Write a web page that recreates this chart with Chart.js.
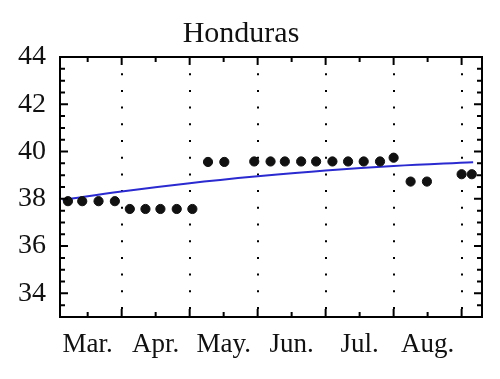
<!DOCTYPE html>
<html>
<head>
<meta charset="utf-8">
<script src="https://cdn.jsdelivr.net/npm/chart.js@4/dist/chart.umd.min.js"></script>
<style>
  html, body { margin: 0; padding: 0; background: #fff; }
  #wrap { width: 500px; height: 379px; }
</style>
</head>
<body>
<div id="wrap"><canvas id="c" width="500" height="379"></canvas></div>
<script>
// Month labels (x unit = months since start of March)
const monthLabels = ['Mar.', 'Apr.', 'May.', 'Jun.', 'Jul.', 'Aug.'];
const labelPos = [0.5, 1.5, 2.5, 3.5, 4.5, 5.5];
const monthBounds = [1, 2, 3, 4, 5, 6];
const yTicks = [34, 36, 38, 40, 42, 44];

// Observed weekly values
const obsX = [0.21, 0.42, 0.66, 0.90, 1.12, 1.35, 1.57, 1.81, 2.04, 2.27, 2.51,
              2.95, 3.19, 3.40, 3.64, 3.86, 4.10, 4.33, 4.56, 4.80, 5.00,
              5.25, 5.49, 6.00, 6.15];
const obsY = [37.9, 37.9, 37.9, 37.9, 37.57, 37.57, 37.57, 37.57, 37.57, 39.56, 39.56,
              39.58, 39.58, 39.58, 39.58, 39.58, 39.58, 39.58, 39.58, 39.58, 39.74,
              38.73, 38.73, 39.04, 39.04];

// Fitted trend
const trendX = [0.13, 1, 2, 3, 4, 5, 6.17];
const trendY = [37.95, 38.31, 38.66, 38.95, 39.2, 39.39, 39.55];

const FONT = "'Liberation Serif', 'DejaVu Serif', serif";

const framePlugin = {
  id: 'frame',
  beforeDatasetsDraw(chart) {
    const { ctx, chartArea: a, scales: { x } } = chart;
    ctx.save();
    ctx.strokeStyle = '#000';
    ctx.lineWidth = 2;
    ctx.setLineDash([2, 14.7]);
    monthBounds.forEach(m => {
      const px = Math.round(x.getPixelForValue(m));
      if (px < a.right - 2) {
        ctx.beginPath();
        ctx.moveTo(px, a.bottom - 8);
        ctx.lineTo(px, a.top + 8);
        ctx.stroke();
      }
    });
    ctx.restore();
  },
  afterDatasetsDraw(chart) {
    const { ctx, chartArea: a, scales: { x, y } } = chart;
    ctx.save();
    ctx.strokeStyle = '#000';
    ctx.lineWidth = 2;
    ctx.setLineDash([]);
    ctx.strokeRect(a.left, a.top, a.right - a.left, a.bottom - a.top);
    ctx.beginPath();
    monthBounds.forEach(m => {
      const px = x.getPixelForValue(m);
      if (px < a.right - 2) {
        ctx.moveTo(px, a.bottom); ctx.lineTo(px, a.bottom - 8);
        ctx.moveTo(px, a.top); ctx.lineTo(px, a.top + 8);
      }
    });
    labelPos.forEach(m => {
      const px = x.getPixelForValue(m);
      ctx.moveTo(px, a.bottom); ctx.lineTo(px, a.bottom - 5);
      ctx.moveTo(px, a.top); ctx.lineTo(px, a.top + 5);
    });
    for (let v = 33.5; v < 44; v += 0.5) {
      const py = y.getPixelForValue(v);
      const len = (yTicks.indexOf(v) >= 0) ? 8 : 5;
      ctx.moveTo(a.left, py); ctx.lineTo(a.left + len, py);
      ctx.moveTo(a.right, py); ctx.lineTo(a.right - len, py);
    }
    ctx.stroke();
    ctx.restore();
  }
};

new Chart(document.getElementById('c'), {
  type: 'scatter',
  data: {
    datasets: [
      {
        data: obsX.map((v, i) => ({ x: v, y: obsY[i] })),
        backgroundColor: '#111',
        borderColor: '#111',
        pointRadius: 4.6,
        pointHoverRadius: 4.6,
        showLine: false
      },
      {
        data: trendX.map((v, i) => ({ x: v, y: trendY[i] })),
        borderColor: '#2a2ad0',
        borderWidth: 2,
        pointRadius: 0,
        showLine: true,
        tension: 0.4,
        fill: false
      }
    ]
  },
  plugins: [framePlugin],
  options: {
    responsive: false,
    animation: false,
    devicePixelRatio: 1,
    layout: { padding: { left: 0, right: 18, top: 0, bottom: 0 } },
    plugins: {
      legend: { display: false },
      tooltip: { enabled: false },
      title: {
        display: true,
        text: 'Honduras',
        color: '#111',
        font: { family: FONT, size: 30, weight: 'normal', lineHeight: 1.2 },
        padding: { top: 16, bottom: 5 }
      }
    },
    scales: {
      x: {
        type: 'linear',
        min: 0.093,
        max: 6.3,
        grid: { display: false, drawTicks: false },
        border: { display: false },
        afterBuildTicks(s) { s.ticks = labelPos.map(v => ({ value: v })); },
        afterFit(s) { s.height = 62; },
        ticks: {
          color: '#111',
          font: { family: FONT, size: 27 },
          padding: 12,
          maxRotation: 0,
          autoSkip: false,
          callback(v) { const i = labelPos.indexOf(v); return i >= 0 ? monthLabels[i] : ''; }
        }
      },
      y: {
        min: 33,
        max: 44,
        grid: { display: false, drawTicks: false },
        border: { display: false },
        afterBuildTicks(s) { s.ticks = yTicks.map(v => ({ value: v })); },
        afterFit(s) { s.width = 60; },
        ticks: {
          color: '#111',
          font: { family: FONT, size: 28 },
          padding: 14
        }
      }
    }
  }
});
</script>
</body>
</html>
